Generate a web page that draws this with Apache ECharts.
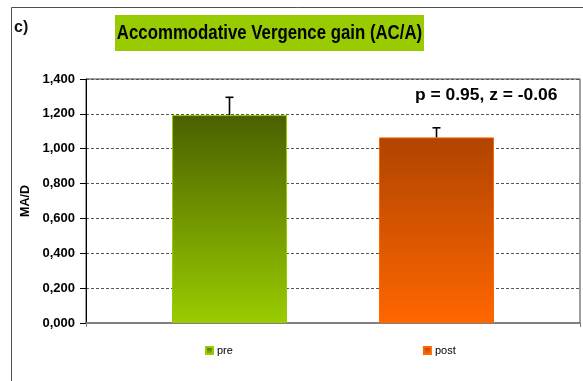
<!DOCTYPE html>
<html>
<head>
<meta charset="utf-8">
<script src="https://cdn.jsdelivr.net/npm/echarts@6/dist/echarts.min.js"></script>
<style>
  html, body { margin: 0; padding: 0; background: #fff; }
  #chart { width: 583px; height: 381px; }
</style>
</head>
<body>
<div id="chart"></div>
<script>
// Accommodative vergence gain, pre vs post (mean with upper SD bar)
const categories = [''];
const seriesNames = ['pre', 'post'];
const preValues = [1.193];
const postValues = [1.065];
const preErr = [0.102];
const postErr = [0.055];
const yTicks = [0, 0.2, 0.4, 0.6, 0.8, 1.0, 1.2, 1.4];
const titleText = 'Accommodative Vergence gain (AC/A)';
const statsText = 'p = 0.95, z = -0.06';

const BAR_W = 115;
const BAR_GAP = 0.8; // gap between the two bars, as a fraction of bar width
const FONT = '"Liberation Sans", Arial, sans-serif';

const chart = echarts.init(document.getElementById('chart'), null, { renderer: 'canvas' });

function grad(top, bottom) {
  return new echarts.graphic.LinearGradient(0, 0, 0, 1, [
    { offset: 0, color: top },
    { offset: 1, color: bottom }
  ]);
}

// Error whisker drawn above a bar; sign picks the left/right bar of the pair
function whisker(sign) {
  return function (params, api) {
    const c = api.coord([api.value(0), api.value(1)]);
    const t = api.coord([api.value(0), api.value(1) + api.value(2)]);
    const x = c[0] + sign * (BAR_W + BAR_W * BAR_GAP) / 2;
    const style = { stroke: '#000', lineWidth: 1.6 };
    return {
      type: 'group',
      children: [
        { type: 'line', shape: { x1: x, y1: c[1], x2: x, y2: t[1] }, style },
        { type: 'line', shape: { x1: x - 4, y1: t[1], x2: x + 4, y2: t[1] }, style }
      ]
    };
  };
}

const option = {
  animation: false,
  textStyle: { fontFamily: FONT },
  graphic: [
    {
      type: 'rect', z: -10, silent: true,
      shape: { x: 11.5, y: 7.5, width: 620, height: 420 },
      style: { fill: 'none', stroke: '#505050', lineWidth: 1 }
    },
    {
      type: 'text', left: 14, top: 20,
      style: { text: 'c)', font: 'bold 16px ' + FONT, fill: '#111' }
    },
    {
      // title banner
      type: 'rect', silent: true,
      shape: { x: 115, y: 15, width: 309, height: 36 },
      style: { fill: '#99cc00' }
    },
    {
      type: 'text', x: 269.5, y: 33.5, scaleX: 0.84, originX: 0, originY: 0,
      style: { text: titleText, font: 'bold 20px ' + FONT, fill: '#000', align: 'center', verticalAlign: 'middle' }
    },
    {
      type: 'text', x: 415, y: 96, scaleX: 1.09,
      style: { text: statsText, font: 'bold 16px ' + FONT, fill: '#000', align: 'left', verticalAlign: 'middle' }
    }
  ],
  legend: {
    data: seriesNames,
    left: 200,
    top: 340,
    itemWidth: 7,
    itemHeight: 7,
    itemGap: 190,
    icon: 'rect',
    textStyle: { fontSize: 11, color: '#000', padding: [0, 0, 0, -1] }
  },
  grid: {
    left: 86, right: 3, top: 79, bottom: 58,
    show: true, borderColor: '#404040', borderWidth: 1, backgroundColor: 'transparent'
  },
  xAxis: {
    type: 'category',
    data: categories,
    axisLine: { lineStyle: { color: '#808080', width: 2 } },
    axisTick: { show: true, length: 4, lineStyle: { color: '#808080' } },
    axisLabel: { show: false },
    splitLine: { show: false }
  },
  yAxis: {
    type: 'value',
    min: yTicks[0],
    max: yTicks[yTicks.length - 1],
    interval: 0.2,
    name: 'MA/D',
    nameLocation: 'middle',
    nameGap: 47,
    nameRotate: 90,
    nameTextStyle: { fontSize: 12.5, fontWeight: 'bold', color: '#000' },
    axisLine: { show: true, lineStyle: { color: '#000', width: 1 } },
    axisTick: { show: true, length: 6, inside: false, lineStyle: { color: '#000' } },
    axisLabel: {
      margin: 11,
      fontSize: 13,
      fontWeight: 'bold',
      color: '#000',
      formatter: v => v.toFixed(3).replace('.', ',')
    },
    splitLine: { show: true, lineStyle: { color: '#555', type: [3, 2], width: 1 } }
  },
  series: [
    {
      name: 'pre',
      type: 'bar',
      data: preValues,
      barWidth: BAR_W,
      barGap: (BAR_GAP * 100) + '%',
      itemStyle: { color: grad('#4a6000', '#99cc00'), borderColor: '#99cc00', borderWidth: 1 }
    },
    {
      name: 'post',
      type: 'bar',
      data: postValues,
      barWidth: BAR_W,
      itemStyle: { color: grad('#b04400', '#ff6600'), borderColor: '#ff6600', borderWidth: 1 }
    },
    {
      type: 'custom',
      renderItem: whisker(-1),
      data: preValues.map((v, i) => [i, v, preErr[i]]),
      z: 5
    },
    {
      type: 'custom',
      renderItem: whisker(1),
      data: postValues.map((v, i) => [i, v, postErr[i]]),
      z: 5
    }
  ]
};

chart.setOption(option);
</script>
</body>
</html>
